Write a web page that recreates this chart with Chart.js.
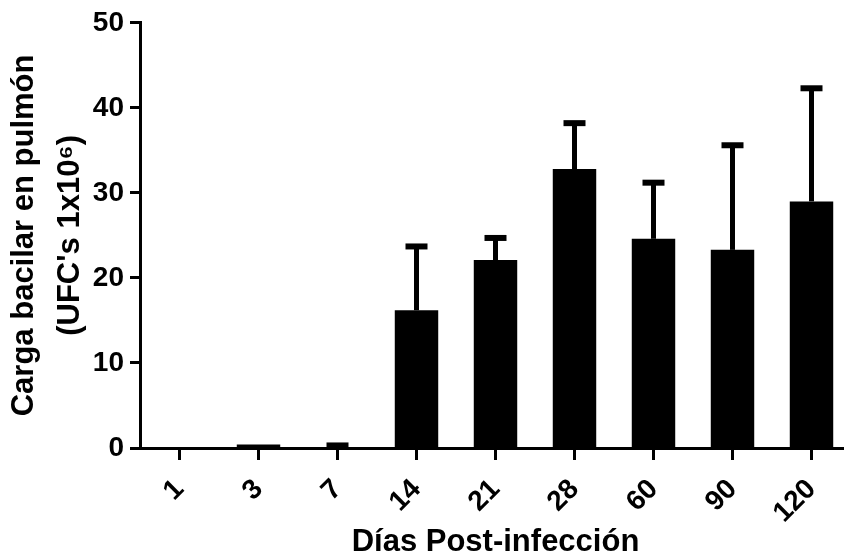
<!DOCTYPE html>
<html>
<head>
<meta charset="utf-8">
<script src="https://cdn.jsdelivr.net/npm/chart.js@4/dist/chart.umd.min.js"></script>
<style>
  html, body { margin: 0; padding: 0; background: #fff; overflow: hidden; }
  #wrap { position: relative; width: 852px; height: 558px; }
</style>
</head>
<body>
<div id="wrap"><canvas id="cargaChart"></canvas></div>
<script>
// dias post-infeccion
var dias = ["1", "3", "7", "14", "21", "28", "60", "90", "120"];
// carga bacilar media (UFC's x10^6)
var media = [0, 0.4, 0.02, 16.2, 22.1, 32.8, 24.6, 23.3, 29.0];
// media + error (extremo superior de la barra de error)
var errorSup = [0, 0.4, 0.3, 23.7, 24.7, 38.2, 31.2, 35.6, 42.3];
var yTicks = [0, 10, 20, 30, 40, 50];

var fuente = "'Liberation Sans', Arial, sans-serif";

// barras de error solo hacia arriba, estilo GraphPad
var errorBars = {
    id: "errorBars",
    afterDatasetsDraw: function(chart) {
        var ctx = chart.ctx;
        var meta = chart.getDatasetMeta(0);
        var y = chart.scales.y;
        ctx.save();
        ctx.strokeStyle = "#000";
        meta.data.forEach(function(bar, i) {
            if (errorSup[i] <= media[i]) return;
            var yTop = y.getPixelForValue(errorSup[i]);
            ctx.lineWidth = 5;
            ctx.beginPath();
            ctx.moveTo(bar.x, bar.y);
            ctx.lineTo(bar.x, yTop);
            ctx.stroke();
            ctx.lineWidth = 6;
            ctx.beginPath();
            ctx.moveTo(bar.x - 11, yTop);
            ctx.lineTo(bar.x + 11, yTop);
            ctx.stroke();
        });
        ctx.restore();
    }
};

var chart = new Chart("cargaChart", {
    type: "bar",
    data: {
        labels: dias,
        datasets: [{
            data: media,
            backgroundColor: "#000",
            borderWidth: 0,
            barPercentage: 0.55,
            categoryPercentage: 1.0
        }]
    },
    options: {
        responsive: true,
        maintainAspectRatio: false,
        animation: false,
        layout: {
            padding: { top: 22, right: 1, left: 0, bottom: 0 }
        },
        plugins: {
            legend: { display: false },
            tooltip: { enabled: false }
        },
        scales: {
            x: {
                offset: true,
                grid: {
                    display: true,
                    drawOnChartArea: false,
                    drawTicks: true,
                    tickLength: 12,
                    tickWidth: 3,
                    tickColor: "#000",
                    offset: false
                },
                border: { display: true, color: "#000", width: 3 },
                ticks: {
                    color: "#000",
                    font: { family: fuente, size: 28, weight: "bold" },
                    minRotation: 45,
                    maxRotation: 45,
                    padding: 13
                },
                title: {
                    display: true,
                    text: "Días Post-infección",
                    color: "#000",
                    font: { family: fuente, size: 31, weight: "bold", lineHeight: 1 },
                    padding: { top: 0, bottom: 0 }
                },
                afterFit: function(scale) { scale.height = 110; }
            },
            y: {
                min: 0,
                max: 50,
                afterBuildTicks: function(scale) {
                    scale.ticks = yTicks.map(function(v) { return { value: v }; });
                },
                grid: {
                    display: true,
                    drawOnChartArea: false,
                    drawTicks: true,
                    tickLength: 10,
                    tickWidth: 3,
                    tickColor: "#000"
                },
                border: { display: true, color: "#000", width: 3 },
                ticks: {
                    color: "#000",
                    font: { family: fuente, size: 28, weight: "bold" },
                    padding: 6
                },
                title: {
                    display: true,
                    text: ["Carga bacilar en pulmón", "(UFC's 1x10⁶)"],
                    color: "#000",
                    font: { family: fuente, size: 31, weight: "bold", lineHeight: 1.48 },
                    padding: { top: 2, bottom: 0 }
                },
                afterFit: function(scale) { scale.width = 140; }
            }
        }
    },
    plugins: [errorBars]
});
</script>
</body>
</html>
